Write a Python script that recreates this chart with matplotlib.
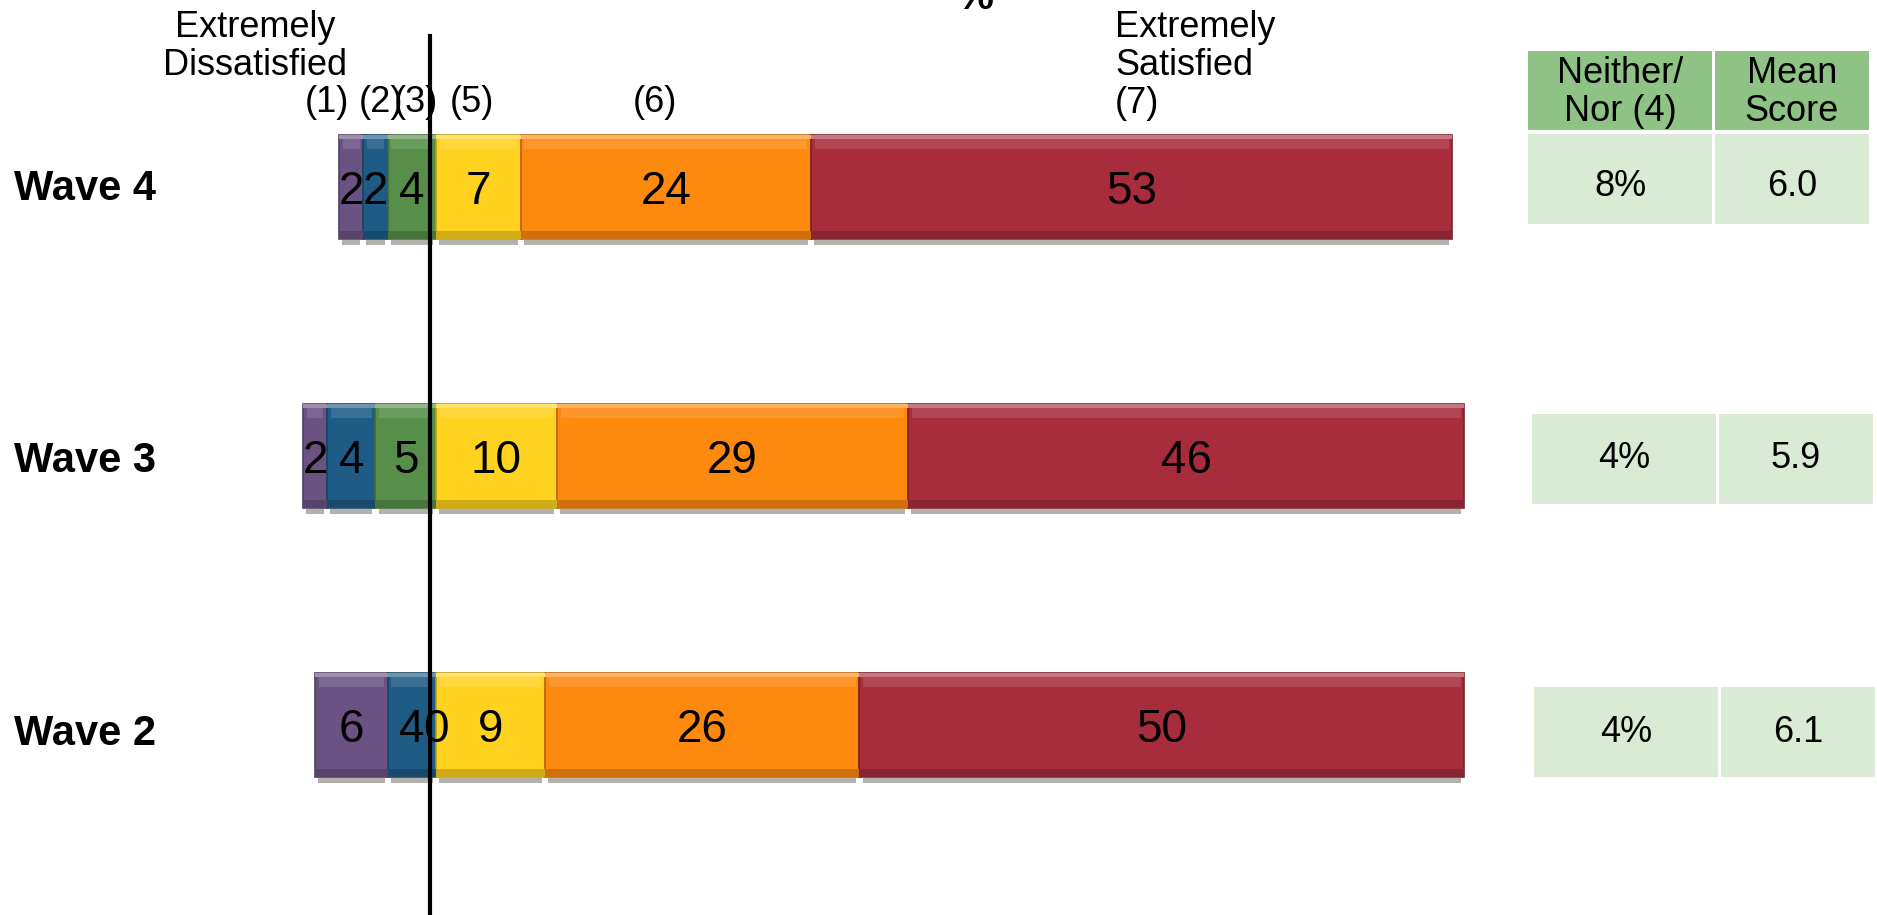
import numpy as np
import matplotlib.pyplot as plt
from matplotlib.patches import Rectangle
from matplotlib.colors import to_rgb

plt.rcParams['font.family'] = ['Liberation Sans', 'DejaVu Sans']

# data
waves = ["Wave 4", "Wave 3", "Wave 2"]
dis_1 = [2, 2, 6]      # (1) extremely dissatisfied
dis_2 = [2, 4, 4]      # (2)
dis_3 = [4, 5, 0]      # (3)
sat_5 = [7, 10, 9]     # (5)
sat_6 = [24, 29, 26]   # (6)
sat_7 = [53, 46, 50]   # (7) extremely satisfied
neither = ["8%", "4%", "4%"]
mean_score = ["6.0", "5.9", "6.1"]
table_head = ["Neither/\nNor (4)", "Mean\nScore"]
scale_labels = ["(1)", "(2)", "(3)", "(5)", "(6)"]

colors = ["#6A5283", "#1F5C85", "#568E4A", "#FFD21F", "#FD890F", "#A72D3D"]

W, H = 1877, 915
fig = plt.figure(figsize=(W / 100, H / 100), dpi=100)
ax = fig.add_axes([0, 0, 1, 1])

zero_px, unit_px = 436, 12.1
row_px, first_px = 269, 187
ax.set_xlim(-zero_px / unit_px, (W - zero_px) / unit_px)
ax.set_ylim((H - first_px) / row_px, -first_px / row_px)
ax.axis("off")


def mix(c, other, t):
    c = np.array(to_rgb(c))
    return tuple(c * (1 - t) + np.array(other) * t)


def bevel_bar(y, left, width, color, h):
    # shadow, body, highlight on top and darker rim at the bottom
    ax.barh(y + h / 2 + 0.012, width - 0.5, left=left + 0.25, height=0.018,
            color="#b4b0ac", linewidth=0, zorder=1)
    ax.barh(y, width, left=left, height=h, color=color,
            edgecolor=mix(color, (0, 0, 0), 0.25), linewidth=1.2, zorder=2)
    ax.barh(y - h / 2 + h * 0.02, width, left=left, height=h * 0.04,
            color=mix(color, (1, 1, 1), 0.35), linewidth=0, zorder=3)
    ax.barh(y - h / 2 + h * 0.085, width - 0.6, left=left + 0.3, height=h * 0.09,
            color=mix(color, (1, 1, 1), 0.12), linewidth=0, zorder=3)
    ax.barh(y + h / 2 - h * 0.04, width, left=left, height=h * 0.08,
            color=mix(color, (0, 0, 0), 0.18), linewidth=0, zorder=3)


bar_h = 104 / row_px
label_px = [189, 461, 734]
for i, name in enumerate(waves):
    vals = [dis_1[i], dis_2[i], dis_3[i], sat_5[i], sat_6[i], sat_7[i]]
    left = -(dis_1[i] + dis_2[i] + dis_3[i])
    for v, c in zip(vals, colors):
        if v > 0:
            bevel_bar(i, left, v, c, bar_h)
        ax.text(left + v / 2, i + 0.02, str(v), ha="center", va="center",
                fontsize=33, color="black", zorder=5)
        left += v
    fig.text(14 / W, 1 - label_px[i] / H, name, ha="left",
             va="center", fontsize=30, fontweight="bold")

# centre line
ax.axvline(-6 / unit_px, ymin=0, ymax=1 - 36 / H, color="black", linewidth=3, zorder=6)

# scale headings
fig.text(255 / W, 1 - 10 / H, "Extremely\nDissatisfied", ha="center", va="top",
         fontsize=26, linespacing=1.12)
fig.text(1115 / W, 1 - 10 / H, "Extremely\nSatisfied\n(7)", ha="left", va="top",
         fontsize=26, linespacing=1.12)
for lab, xp in zip(scale_labels, [327, 381, 416, 472, 655]):
    fig.text(xp / W, 1 - 112 / H, lab, ha="center", va="baseline", fontsize=26)
fig.text(975 / W, 1 - 9 / H, "%", ha="center", va="baseline", fontsize=30,
         fontweight="bold")

# side table
col_left = [1528, 1715]
col_w = [184, 154]
row_top = [134, 414, 687]
row_shift = [0, 4, 6]
text_dy = [8, 0, 0]


def cell(x, y, w, h, color, text, dy):
    fig.add_artist(Rectangle((x / W, 1 - (y + h) / H), w / W, h / H,
                             transform=fig.transFigure, color=color, linewidth=0))
    fig.text((x + w / 2) / W, 1 - (y + h / 2 + dy) / H, text, ha="center",
             va="center", fontsize=26, linespacing=1.12)


for j in range(2):
    cell(col_left[j], 51, col_w[j], 79, "#8FC285", table_head[j], 2)
for i in range(len(waves)):
    for j, txt in enumerate([neither[i], mean_score[i]]):
        cell(col_left[j] + row_shift[i], row_top[i], col_w[j], 90, "#D9EBD4",
             txt, text_dy[i])

fig.savefig("out.png", dpi=100)
